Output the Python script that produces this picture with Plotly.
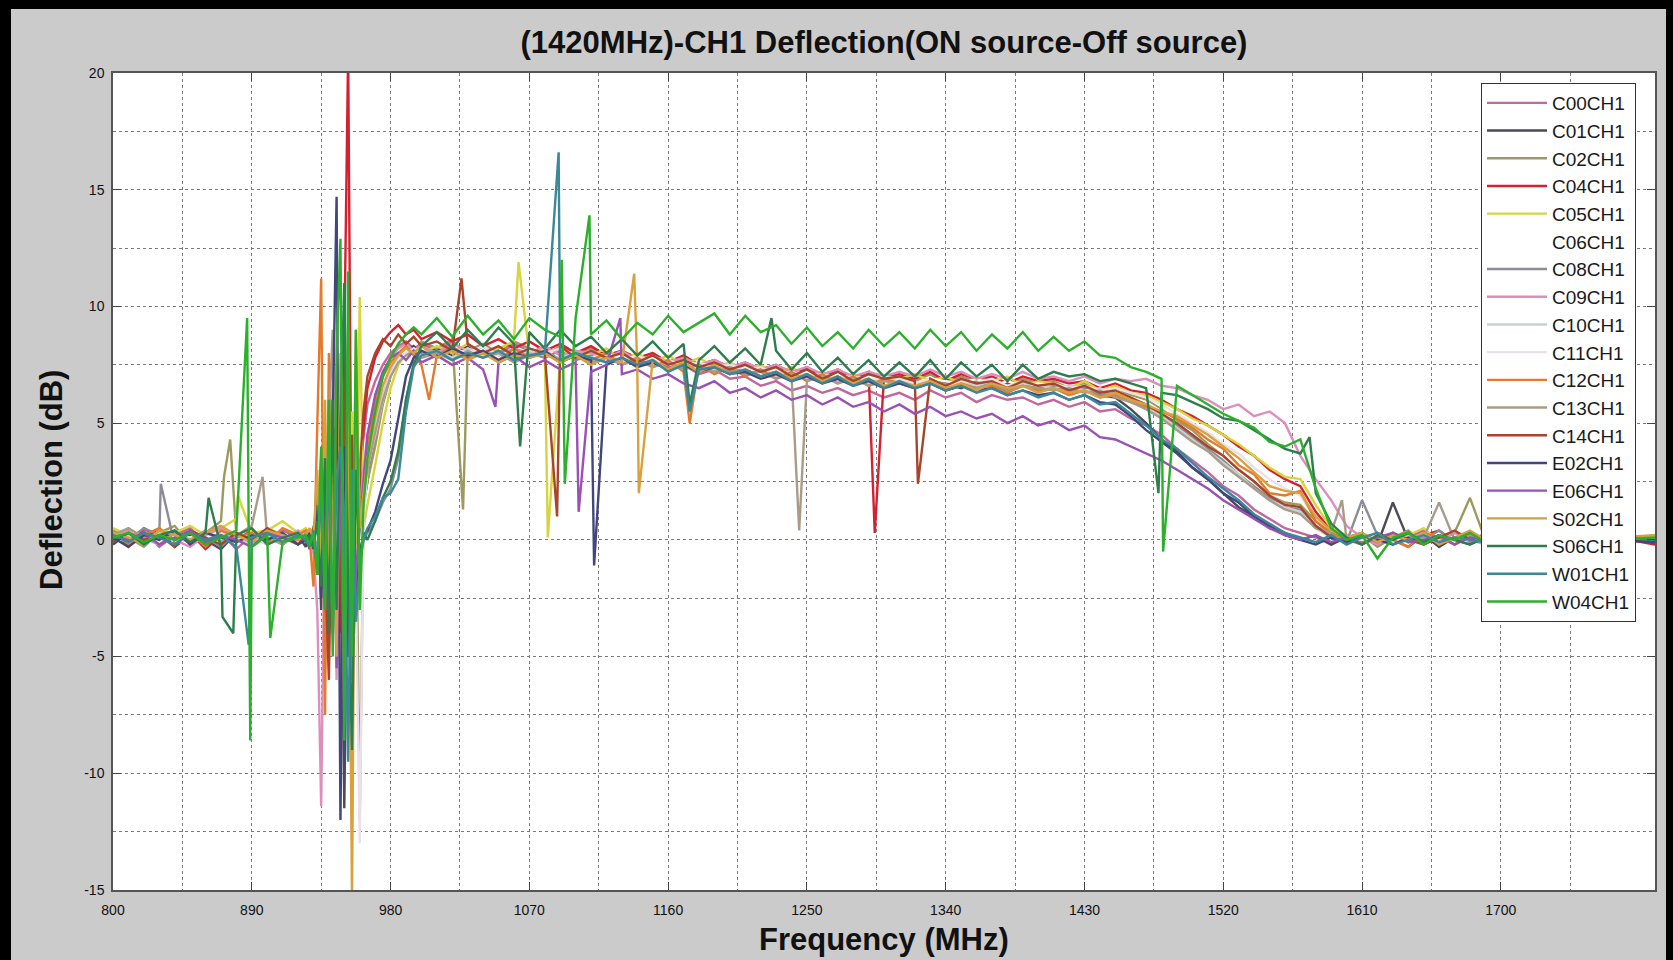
import plotly.graph_objects as go

# ---------------- data ----------------
freq = [800, 810, 820, 830, 840, 850, 860, 870, 880, 890, 900, 910, 920,
        925, 927.5, 930, 932.5, 935, 937.5, 940, 942.5, 945, 947.5, 950, 952.5, 955, 957.5, 960, 962.5, 965,
        970, 975, 980, 985, 990, 995, 1000,
        1010, 1020, 1030, 1040, 1050, 1060, 1070, 1080, 1090, 1100,
        1110, 1120, 1130, 1140, 1150, 1160, 1170, 1180, 1190, 1200,
        1210, 1220, 1230, 1240, 1250, 1260, 1270, 1280, 1290, 1300,
        1310, 1320, 1330, 1340, 1350, 1360, 1370, 1380, 1390, 1400,
        1410, 1420, 1430, 1440, 1450, 1460, 1470, 1480, 1490, 1500,
        1510, 1520, 1530, 1540, 1550, 1560, 1570, 1580, 1590, 1600,
        1610, 1620, 1630, 1640, 1650, 1660, 1670, 1680, 1690,
        1700, 1725, 1750, 1775, 1800]

c00 = [0.3, -0.2, 0.4, -0.3, 0.2, 0.5, -0.1, 0.3, -0.4, 0.2, -0.2, 0.4, 0.1,
       0.2, -0.3, 0.5, 1.2, -2.5, 3.1, -4.2, 2.0, 5.5, -6.0, 3.5, -2.0, 1.5, 4.0, 3.0, 4.5, 5.8,
       6.8, 7.5, 8.0, 8.3, 8.5, 8.2, 8.4,
       8.1, 8.5, 8.0, 8.3, 7.9, 8.4, 8.1, 7.8, 8.2, 7.9,
       8.0, 7.7, 8.1, 7.6, 7.8, 7.4, 7.5, 7.1, 7.3, 6.9,
       7.0, 6.6, 6.8, 6.4, 6.6, 6.3, 6.5, 6.2, 6.4, 6.1,
       6.3, 6.0, 6.4, 6.1, 6.3, 5.9, 6.2, 6.0, 6.1, 5.8,
       6.0, 5.7, 5.9, 5.5, 5.6, 5.2, 4.9, 4.5, 3.9, 3.4,
       2.9, 2.3, 1.9, 1.3, 0.9, 0.5, 0.3, 0.1, -0.2, 0.2,
       -0.1, 0.3, -0.2, 0.1, 0.4, -0.3, 0.2, -0.1, 0.3,
       0.0, 0.2, -0.2, 0.1, 0.0]

c01 = [-0.2, 0.3, 0.1, 0.4, -0.3, 0.2, 0.0, -0.4, 0.3, -0.2, 0.4, -0.1, 0.2,
       -0.3, 0.4, -0.2, 2.5, -3.0, 4.5, -1.5, 6.0, -4.0, 3.0, -11.5, 2.0, -3.5, 1.0, 0.5, 1.5, 2.5,
       4.5, 6.2, 7.2, 7.8, 8.1, 8.3, 8.0,
       8.2, 7.9, 8.3, 8.0, 7.8, 8.2, 7.9, 8.1, 7.7, 8.0,
       7.8, 8.0, 7.6, 7.9, 7.5, 7.7, 7.4, 7.6, 7.3, 7.5,
       7.2, 7.4, 7.0, 7.3, 6.9, 7.1, 6.8, 7.0, 6.7, 6.9,
       6.8, 6.6, 6.9, 6.7, 6.5, 6.8, 6.6, 6.4, 6.7, 6.5,
       6.6, 6.3, 6.5, 6.2, 6.1, 5.6, 5.0, 4.3, 3.8, 3.1,
       2.6, 2.0, 1.4, 1.0, 0.5, 0.3, 0.0, 0.2, -0.2, 0.1,
       0.3, -0.2, 1.6, 0.0, 0.2, -0.3, 0.1, 0.3, -0.1,
       0.1, -0.2, 0.2, 0.0, -0.1]

c02 = [0.4, 0.1, -0.3, 0.3, 0.6, -0.2, 0.3, 0.8, 0.2, -0.3, 0.5, 0.2, -0.1,
       0.3, -0.2, 0.6, -1.5, 3.5, -2.0, 5.0, 2.5, -3.5, 6.0, -2.5, 4.0, -6.0, 3.0, -12.0, 1.5, 2.5,
       4.0, 5.8, 7.0, 7.8, 8.2, 8.0, 8.5,
       8.2, 8.6, 8.1, 8.4, 8.0, 8.5, 8.2, 7.9, 8.3, 8.0,
       8.2, 7.9, 8.1, 7.7, 8.0, 7.6, 7.8, 7.5, 7.7, 7.3,
       7.5, 7.2, 7.4, 7.0, 7.3, 6.9, 7.2, 6.8, 7.1, 6.9,
       7.0, 6.8, 7.1, 6.7, 7.0, 6.8, 6.9, 6.6, 6.9, 6.7,
       6.8, 6.5, 6.7, 6.4, 6.5, 6.2, 6.0, 5.6, 5.1, 4.7,
       4.1, 3.6, 3.0, 2.5, 1.9, 1.6, 1.5, 0.8, 0.2, 0.0,
       0.2, -0.3, 0.1, 0.4, -0.2, 0.1, 0.3, 1.8, 0.0,
       0.2, -0.1, 0.1, 0.0, 0.2]

c04 = [0.2, -0.3, 0.5, 0.1, -0.2, 0.3, -0.4, 0.2, 0.0, 0.4, -0.2, 0.1, 0.3,
       0.1, -0.4, 0.3, -1.0, 2.0, -3.5, 4.0, -2.5, 6.5, -4.0, 9.0, 21.0, -3.0, 3.5, 2.0, 4.8, 6.5,
       7.8, 8.5, 8.9, 9.2, 8.8, 9.0, 8.6,
       8.9, 8.5, 8.8, 8.3, 8.6, 8.2, 8.5, 8.1, 8.4, 8.0,
       8.3, 7.9, 8.1, 7.8, 8.0, 7.6, 7.9, 7.5, 7.7, 7.4,
       7.6, 7.3, 7.5, 7.1, 7.4, 7.0, 7.3, 6.9, 7.2, 7.0,
       7.1, 6.9, 7.2, 6.8, 7.1, 6.9, 7.0, 6.7, 7.0, 6.8,
       6.9, 6.7, 6.8, 6.5, 6.7, 6.4, 6.3, 6.0, 5.6, 5.3,
       4.9, 4.5, 4.0, 3.6, 3.0, 2.6, 2.3, 1.2, 0.4, 0.1,
       -0.2, 0.3, 0.0, -0.3, 0.2, 0.4, -0.1, 0.2, 0.0,
       -0.1, 0.2, 0.0, 0.1, -0.2]

c05 = [0.5, 0.2, -0.1, 0.4, 0.3, 0.6, 0.2, 0.5, 0.9, 0.3, 0.4, 0.8, 0.3,
       0.5, 0.2, -0.5, 1.5, -2.0, 3.0, -1.0, 4.5, -3.0, 2.5, 6.0, -4.0, 5.5, -4.0, 10.4, 0.5, 1.5,
       3.2, 5.0, 6.5, 7.5, 8.0, 8.2, 8.0,
       8.3, 8.0, 8.4, 7.9, 8.2, 8.5, 7.9, 8.2, 7.8, 8.1,
       7.9, 8.2, 7.7, 8.0, 7.6, 7.9, 7.5, 7.8, 7.4, 7.6,
       7.3, 7.5, 7.1, 7.4, 7.0, 7.2, 6.9, 7.1, 6.8, 7.0,
       6.9, 7.1, 6.8, 7.0, 6.7, 6.9, 6.8, 7.0, 6.6, 6.8,
       6.7, 6.5, 6.8, 6.4, 6.6, 6.3, 6.2, 5.9, 5.6, 5.2,
       4.9, 4.5, 4.1, 3.6, 3.1, 2.7, 2.6, 1.5, 0.5, 0.2,
       0.0, 0.3, -0.2, 0.2, 0.5, -0.1, 0.3, 0.1, -0.2,
       0.1, 0.3, -0.1, 0.2, 0.0]

c06 = [0.1, -0.1, 0.2, 0.0, -0.2, 0.1, 0.3, -0.1, 0.2, 0.0, 0.1, -0.2, 0.1,
       0.0, 0.2, -0.3, 0.5, -1.0, 1.5, -0.5, 2.0, -1.5, 1.0, -2.0, 0.5, -2.2, -1.0, 0.5, 2.0, 3.5,
       5.0, 6.5, 7.4, 7.9, 8.1, 8.0, 8.2,
       8.0, 8.2, 7.9, 8.1, 7.8, 8.0, 8.2, 7.9, 8.1, 7.8,
       7.9, 7.7, 7.9, 7.6, 7.8, 7.5, 7.7, 7.4, 7.5, 7.3,
       7.4, 7.1, 7.3, 7.0, 7.2, 6.9, 7.1, 6.9, 7.0, 6.8,
       6.9, 6.7, 6.9, 6.8, 6.7, 6.9, 6.6, 6.8, 6.6, 6.7,
       6.6, 6.4, 6.6, 6.3, 6.4, 6.1, 5.9, 5.5, 5.0, 4.5,
       4.0, 3.5, 2.9, 2.4, 1.9, 1.5, 1.2, 0.6, 0.2, 0.0,
       0.1, -0.1, 0.2, 0.0, 0.1, -0.1, 0.2, 0.0, 0.1,
       0.0, 0.1, -0.1, 0.0, 0.1]

c08 = [0.3, 0.0, 0.5, 0.2, -0.2, 0.4, 0.1, -0.3, 0.3, 0.0, 0.2, -0.2, 0.3,
       0.1, -0.2, 0.4, -0.5, 1.5, -2.0, 2.5, -3.0, 4.0, -2.5, 3.0, -5.0, 2.0, -3.0, -1.0, 0.0, 0.3,
       0.8, 1.6, 2.2, 3.5, 6.0, 7.6, 8.0,
       8.1, 7.8, 8.2, 7.9, 8.1, 7.7, 8.0, 7.8, 8.1, 7.7,
       7.9, 7.6, 7.8, 7.5, 7.7, 7.3, 7.6, 7.4, 7.5, 7.2,
       7.3, 7.0, 7.2, 6.9, 7.1, 6.8, 7.0, 6.7, 6.9, 6.6,
       6.8, 6.6, 6.9, 6.5, 6.8, 6.6, 6.7, 6.5, 6.7, 6.4,
       6.6, 6.3, 6.5, 6.2, 6.3, 6.0, 5.8, 5.3, 4.9, 4.4,
       3.9, 3.4, 2.8, 2.3, 1.8, 1.4, 1.3, 0.6, 0.2, -0.1,
       1.7, 0.2, -0.2, 0.3, 0.0, 0.4, -0.1, 0.2, 0.1,
       -0.1, 0.2, 0.0, -0.2, 0.1]

c09 = [0.2, 0.4, -0.1, 0.3, 0.0, -0.3, 0.2, 0.5, 0.1, -0.2, 0.3, 0.0, 0.4,
       0.1, 0.3, -0.6, -3.0, -11.4, 2.0, -4.0, 5.0, -6.0, 7.0, -5.0, 3.0, -2.0, 2.5, 1.5, 3.0, 4.5,
       6.0, 7.0, 7.8, 8.2, 8.4, 8.1, 8.3,
       8.0, 8.4, 8.1, 8.3, 7.9, 8.2, 8.0, 8.3, 7.9, 8.1,
       8.0, 7.8, 8.1, 7.7, 7.9, 7.6, 7.8, 7.5, 7.7, 7.4,
       7.6, 7.3, 7.5, 7.2, 7.4, 7.1, 7.3, 7.0, 7.2, 7.0,
       7.2, 7.0, 7.3, 7.0, 7.2, 6.9, 7.1, 6.9, 7.2, 6.9,
       7.0, 6.8, 7.0, 6.7, 6.9, 6.8, 6.9, 6.6, 6.5, 6.2,
       6.0, 5.6, 5.8, 5.3, 5.5, 5.0, 3.6, 2.6, 1.7, 0.6,
       0.1, -0.2, 0.3, 0.0, 0.2, -0.1, 0.3, 0.0, -0.2,
       0.1, 0.0, 0.2, -0.1, 0.1]

c10 = [0.0, 0.2, -0.2, 0.3, 0.1, -0.1, 0.3, 0.0, 0.2, -0.3, 0.1, 0.2, -0.1,
       0.2, -0.1, 0.3, -0.8, 1.2, -1.8, 2.5, -1.0, 3.0, -2.0, 1.5, -3.0, 2.0, -1.5, 0.5, 1.8, 3.2,
       4.8, 6.2, 7.3, 7.8, 8.0, 8.1, 7.9,
       8.1, 7.8, 8.2, 7.9, 8.0, 7.8, 8.1, 7.9, 7.8, 8.0,
       7.7, 7.9, 7.6, 7.8, 7.5, 7.6, 7.4, 7.5, 7.3, 7.4,
       7.1, 7.3, 7.0, 7.2, 6.9, 7.0, 6.8, 7.0, 6.7, 6.9,
       6.8, 6.6, 6.8, 6.5, 6.7, 6.6, 6.8, 6.5, 6.7, 6.6,
       6.5, 6.6, 6.4, 6.5, 6.2, 6.0, 5.7, 5.3, 4.8, 4.3,
       3.8, 3.3, 2.8, 2.2, 1.7, 1.4, 1.2, 0.5, 0.1, 0.0,
       0.2, 0.0, 0.1, -0.1, 0.2, 0.0, -0.1, 0.1, 0.0,
       0.1, -0.1, 0.0, 0.1, 0.0]

c11 = [0.1, 0.3, 0.0, -0.2, 0.2, 0.1, -0.1, 0.3, 0.0, 0.2, -0.2, 0.1, 0.2,
       0.0, 0.3, -0.4, 1.0, -1.5, 2.0, -2.5, 1.5, -3.5, 2.5, -1.5, 1.0, -4.0, -2.0, -13.0, 1.0, 3.0,
       4.5, 6.0, 7.1, 7.7, 8.0, 8.2, 8.1,
       7.9, 8.2, 8.0, 8.3, 7.9, 8.1, 7.8, 8.0, 8.2, 7.9,
       7.8, 8.0, 7.7, 7.9, 7.6, 7.7, 7.5, 7.6, 7.4, 7.5,
       7.3, 7.4, 7.1, 7.2, 7.0, 7.1, 6.9, 7.0, 6.8, 7.0,
       6.9, 6.7, 6.9, 6.6, 6.8, 6.7, 6.9, 6.6, 6.8, 6.6,
       6.7, 6.5, 6.6, 6.4, 6.5, 6.3, 6.1, 5.8, 5.4, 5.0,
       4.6, 4.1, 3.7, 3.1, 2.6, 2.2, 1.9, 0.9, 0.3, 0.1,
       0.0, 0.2, -0.1, 0.1, 0.0, 0.2, -0.1, 0.0, 0.1,
       0.0, 0.1, 0.0, -0.1, 0.1]

c12 = [0.3, -0.2, 0.2, 0.5, 0.0, 0.3, -0.3, 0.4, 0.1, 0.3, -0.1, 0.5, 0.2,
       0.4, 0.1, -2.0, 5.0, 11.2, -7.5, 8.0, 3.0, -3.5, 6.5, -1.5, 9.0, -4.0, 5.0, 1.0, 2.5, 4.0,
       5.8, 7.0, 7.6, 8.0, 8.3, 7.9, 7.5,
       7.9, 8.3, 7.8, 8.1, 7.7, 8.2, 7.8, 8.0, 7.6, 7.9,
       7.7, 8.0, 7.5, 7.8, 7.4, 7.7, 7.2, 7.5, 7.1, 7.4,
       7.0, 7.3, 6.9, 7.2, 6.8, 7.1, 6.7, 7.0, 6.6, 6.9,
       6.7, 6.5, 6.8, 6.4, 6.7, 6.5, 6.6, 6.3, 6.6, 6.4,
       6.5, 6.2, 6.4, 6.1, 6.2, 5.9, 5.7, 5.5, 5.2, 4.8,
       4.3, 3.9, 3.2, 2.8, 2.0, 1.9, 2.1, 0.8, 0.3, 0.0,
       -0.2, 0.2, 0.0, -0.3, 0.3, 0.1, -0.2, 0.2, 0.0,
       -0.2, 0.1, 0.2, -0.1, 0.0]

c13 = [0.2, 0.5, 0.1, -0.2, 0.3, 0.0, 0.4, -0.1, 0.2, 0.6, 0.1, -0.2, 0.3,
       0.1, 0.4, -0.3, 1.0, 3.0, -2.5, 5.0, 9.0, -4.0, 3.5, -6.0, 2.0, -2.5, 4.0, 1.5, 2.0, 3.0,
       4.6, 6.0, 7.0, 7.6, 7.9, 8.1, 7.8,
       8.0, 7.7, 8.1, 7.8, 8.0, 7.6, 7.9, 8.1, 7.7, 7.9,
       7.6, 7.8, 7.5, 7.7, 7.4, 7.6, 7.3, 7.5, 7.2, 7.4,
       7.1, 7.2, 6.9, 7.1, 6.8, 7.0, 6.7, 6.9, 6.6, 6.8,
       6.7, 6.5, 6.7, 6.4, 6.6, 6.5, 6.7, 6.4, 6.6, 6.5,
       6.4, 6.5, 6.3, 6.4, 6.1, 5.9, 5.6, 5.2, 4.7, 4.2,
       3.8, 3.2, 2.7, 2.2, 1.7, 1.3, 1.1, 0.5, 0.3, 0.0,
       0.2, 0.0, 0.3, -0.1, 0.1, 1.6, 0.0, 0.2, -0.1,
       0.1, 0.0, 0.2, -0.1, 0.0]

c14 = [-0.1, 0.3, 0.0, 0.2, -0.3, 0.4, 0.1, -0.2, 0.3, 0.0, 0.5, 0.1, -0.2,
       0.2, -0.1, 0.5, -1.5, 3.5, -1.0, -6.0, 4.0, 5.0, -3.0, 7.0, -2.0, 4.5, -3.5, 3.0, 5.5, 7.0,
       8.0, 8.6, 8.3, 8.8, 8.4, 8.7, 8.3,
       8.5, 8.1, 8.4, 8.0, 8.3, 7.9, 8.2, 8.0, 8.3, 7.8,
       8.1, 7.8, 8.0, 7.6, 7.9, 7.5, 7.7, 7.4, 7.6, 7.3,
       7.5, 7.2, 7.4, 7.0, 7.3, 6.9, 7.2, 6.8, 7.1, 6.9,
       7.0, 6.8, 6.9, 6.6, 6.9, 6.7, 6.8, 6.5, 6.8, 6.6,
       6.7, 6.4, 6.6, 6.3, 6.4, 6.1, 5.8, 5.4, 5.0, 4.5,
       4.0, 3.6, 3.0, 2.5, 1.9, 1.5, 1.4, 0.6, 0.1, -0.1,
       0.2, -0.1, 0.3, 0.0, -0.2, 0.1, 0.4, 0.0, 0.2,
       -0.1, 0.1, 0.0, 0.2, -0.1]

e02 = [0.1, -0.3, 0.2, 0.0, 0.4, -0.2, 0.3, 0.1, -0.1, 0.2, 0.0, 0.3, -0.2,
       0.0, 0.3, -0.4, 1.5, -2.5, 3.0, -1.5, 5.0, 14.7, -12.0, 4.0, -5.0, 2.0, -2.0, -0.5, 0.2, 0.4,
       1.2, 2.4, 3.4, 5.2, 7.0, 7.8, 8.1,
       7.8, 8.2, 7.9, 8.1, 7.7, 8.0, 7.8, 8.1, 7.6, 7.9,
       7.7, 7.5, 7.8, 7.4, 7.6, 7.3, 7.5, 7.2, 7.4, 7.1,
       7.2, 6.9, 7.1, 6.8, 7.0, 6.7, 6.9, 6.6, 6.8, 6.5,
       6.7, 6.5, 6.7, 6.4, 6.6, 6.4, 6.5, 6.2, 6.4, 6.2,
       6.3, 6.0, 6.2, 5.9, 5.8, 5.3, 4.7, 4.2, 3.7, 3.1,
       2.6, 2.0, 1.6, 1.0, 0.6, 0.2, 0.0, -0.2, 0.1, -0.1,
       0.2, 0.0, -0.2, 0.1, -0.1, 0.2, 0.0, -0.2, 0.1,
       0.0, -0.1, 0.1, 0.0, -0.1]

e06 = [0.2, 0.0, 0.3, -0.2, 0.1, 0.4, -0.1, 0.2, 0.0, -0.3, 0.3, 0.1, 0.0,
       0.1, -0.2, 0.3, -1.0, 2.0, -3.0, 1.5, 4.0, -5.5, 3.0, -8.0, 2.5, -6.0, -1.5, 0.5, 2.5, 4.5,
       6.2, 7.2, 7.8, 8.0, 7.7, 8.1, 7.6,
       7.9, 7.5, 7.8, 7.3, 7.6, 7.9, 7.4, 7.7, 7.3, 7.6,
       7.2, 7.5, 7.1, 7.3, 6.9, 7.1, 6.7, 6.5, 6.8, 6.3,
       6.5, 6.1, 6.4, 6.0, 6.2, 5.8, 6.1, 5.7, 5.9, 5.5,
       5.8, 5.4, 5.7, 5.3, 5.5, 5.2, 5.4, 5.0, 5.3, 4.9,
       5.1, 4.7, 4.9, 4.4, 4.3, 4.0, 3.7, 3.4, 3.0, 2.6,
       2.2, 1.7, 1.3, 0.9, 0.5, 0.2, 0.0, 0.2, -0.1, 0.1,
       -0.2, 0.1, 0.3, -0.1, 0.0, 0.2, -0.2, 0.1, 0.0,
       0.1, -0.1, 0.0, 0.2, 0.0]

s02 = [0.3, 0.1, -0.2, 0.4, 0.2, 0.0, 0.3, 0.6, 0.2, -0.1, 0.4, 0.2, 0.0,
       0.2, 0.5, 0.0, 3.0, -1.5, 6.0, -3.0, 4.0, -5.0, 8.0, -2.5, 5.0, -15.5, 9.0, 0.5, 2.0, 3.5,
       5.2, 6.6, 7.4, 7.9, 8.2, 8.0, 8.3,
       7.8, 8.1, 7.7, 8.0, 7.6, 7.9, 7.8, 8.0, 7.6, 7.9,
       7.5, 7.8, 7.6, 7.4, 7.7, 7.3, 7.6, 7.2, 7.5, 7.1,
       7.3, 7.0, 7.2, 6.9, 7.1, 6.8, 7.0, 6.7, 6.9, 6.6,
       6.8, 6.6, 6.8, 6.5, 6.7, 6.4, 6.7, 6.5, 6.6, 6.3,
       6.5, 6.3, 6.4, 6.1, 6.3, 6.0, 5.8, 5.5, 5.3, 4.9,
       4.5, 4.0, 3.5, 2.9, 2.3, 2.1, 2.0, 1.0, 0.4, 0.1,
       0.3, -0.1, 0.2, 0.0, 0.3, -0.2, 0.1, 0.4, 0.0,
       0.2, 0.0, -0.1, 0.1, 0.2]

s06 = [0.0, 0.3, -0.2, 0.2, 0.4, -0.1, 0.3, -0.3, 0.2, 0.5, -0.2, 0.1, 0.3,
       -0.1, 0.2, -0.3, 0.8, -2.0, 3.5, -4.0, 6.0, -3.0, 5.0, 11.0, -2.0, -9.0, 3.0, -1.0, 0.3, 0.0,
       0.8, 1.8, 2.5, 3.8, 6.0, 7.5, 8.3,
       8.9, 8.2, 9.0, 8.3, 9.1, 8.4, 8.9, 8.2, 9.0, 8.3,
       8.7, 8.0, 8.6, 7.9, 8.5, 7.8, 8.4, 7.7, 8.3, 7.6,
       8.2, 7.5, 8.1, 7.3, 8.0, 7.2, 7.8, 7.1, 7.7, 7.0,
       7.6, 7.0, 7.7, 6.9, 7.6, 7.0, 7.5, 6.8, 7.5, 6.9,
       7.2, 7.0, 7.1, 6.8, 6.9, 6.7, 6.5, 6.3, 6.2, 5.9,
       5.6, 5.2, 5.1, 4.7, 4.3, 3.9, 3.7, 2.0, 0.7, 0.1,
       -0.2, 0.2, 0.0, 0.3, -0.1, 0.2, 0.0, -0.2, 0.1,
       0.0, 0.2, -0.1, 0.1, 0.0]

w01 = [0.2, -0.1, 0.3, 0.1, -0.2, 0.3, 0.0, 0.2, -0.3, 0.1, 0.3, -0.1, 0.2,
       0.0, -0.3, 0.4, -1.0, 2.0, -2.5, 3.5, -4.0, 2.5, 4.0, 1.0, -9.5, 3.0, -3.5, -1.0, 0.0, 0.5,
       1.0, 1.8, 2.0, 2.6, 5.5, 7.4, 7.9,
       8.1, 7.7, 8.0, 7.8, 8.1, 7.7, 7.9, 8.0, 7.7, 8.0,
       7.8, 7.6, 7.8, 7.5, 7.7, 7.2, 7.5, 7.3, 7.4, 7.1,
       7.3, 7.0, 7.2, 6.8, 7.1, 6.7, 7.0, 6.6, 6.9, 6.5,
       6.8, 6.5, 6.7, 6.4, 6.6, 6.3, 6.5, 6.2, 6.4, 6.1,
       6.3, 6.0, 6.2, 5.8, 5.9, 5.4, 4.9, 4.3, 3.9, 3.3,
       2.7, 2.2, 1.7, 1.1, 0.7, 0.3, 0.1, -0.1, 0.2, -0.2,
       0.1, 0.3, -0.2, 0.0, 0.2, -0.1, 0.1, 0.0, -0.1,
       0.1, 0.0, -0.2, 0.1, 0.0]

w04 = [0.1, 0.3, -0.1, 0.2, 0.0, 0.3, -0.2, 0.1, 0.4, -0.3, 0.2, -0.1, 0.1,
       0.2, -0.2, 0.3, -1.5, 4.0, -3.0, 6.0, -5.0, 8.0, 12.9, -8.6, 11.5, -5.0, 9.0, -3.0, 1.5, 3.5,
       5.5, 7.0, 7.8, 8.4, 8.8, 9.1, 8.8,
       9.5, 8.7, 9.6, 8.8, 9.4, 8.6, 9.5, 9.0, 8.7, 9.5,
       8.8, 9.4, 8.6, 9.3, 8.8, 9.6, 8.9, 9.3, 9.7, 8.8,
       9.6, 8.9, 9.2, 8.4, 9.1, 8.3, 8.9, 8.2, 9.0, 8.3,
       8.9, 8.2, 9.0, 8.3, 8.9, 8.1, 8.8, 8.2, 8.9, 8.1,
       8.7, 8.1, 8.5, 7.9, 7.8, 7.4, 7.2, 6.9, 6.6, 6.2,
       5.8, 5.4, 5.1, 4.8, 4.2, 4.0, 4.3, 2.2, 0.5, 0.0,
       0.2, -0.8, 0.1, 0.3, -0.2, 0.2, 0.0, 0.3, -0.1,
       0.1, -0.2, 0.2, 0.0, 0.1]

# narrow spikes (frequency, value) that fall between grid samples
c02_spike_f = [872, 876, 1027]
c02_spike_v = [2.7, 4.3, 1.3]
c04_spike_f = [1294]
c04_spike_v = [0.3]
c05_spike_f = [881, 1063, 1082]
c05_spike_v = [1.9, 11.9, 0.1]
c08_spike_f = [831]
c08_spike_v = [2.4]
c12_spike_f = [1005, 1174]
c12_spike_v = [6.0, 5.0]
c13_spike_f = [897, 1245, 1597]
c13_spike_v = [2.7, 0.4, 1.7]
c14_spike_f = [1026, 1088, 1322]
c14_spike_v = [11.2, 1.0, 2.4]
e02_spike_f = [1112]
e02_spike_v = [-1.1]
e06_spike_f = [1048, 1102, 1129]
e06_spike_v = [5.7, 1.2, 9.5]
s02_spike_f = [1138, 1141]
s02_spike_v = [11.4, 2.0]
s06_spike_f = [862, 871, 878, 1064, 1174, 1227, 1478, 1576]
s06_spike_v = [1.8, -3.3, -4.0, 4.0, 5.8, 9.5, 2.0, 4.4]
w01_spike_f = [888, 1089, 1174]
w01_spike_v = [-4.5, 16.6, 5.5]
w04_spike_f = [887, 889, 902, 1091, 1093, 1109, 1481]
w04_spike_v = [9.5, -8.6, -4.2, 12.0, 2.4, 13.9, -0.5]

names = ["C00CH1", "C01CH1", "C02CH1", "C04CH1", "C05CH1", "C06CH1", "C08CH1", "C09CH1",
         "C10CH1", "C11CH1", "C12CH1", "C13CH1", "C14CH1", "E02CH1", "E06CH1", "S02CH1",
         "S06CH1", "W01CH1", "W04CH1"]
values = [c00, c01, c02, c04, c05, c06, c08, c09, c10, c11, c12, c13, c14, e02, e06, s02, s06, w01, w04]
spike_fs = [[], [], c02_spike_f, c04_spike_f, c05_spike_f, [], c08_spike_f, [], [], [], c12_spike_f,
            c13_spike_f, c14_spike_f, e02_spike_f, e06_spike_f, s02_spike_f, s06_spike_f, w01_spike_f, w04_spike_f]
spike_vs = [[], [], c02_spike_v, c04_spike_v, c05_spike_v, [], c08_spike_v, [], [], [], c12_spike_v,
            c13_spike_v, c14_spike_v, e02_spike_v, e06_spike_v, s02_spike_v, s06_spike_v, w01_spike_v, w04_spike_v]

colors = ["#c2669e", "#4a4a58", "#9d9a5e", "#d42030", "#d8d43c", "#ffffff", "#8c8c98", "#dc8fbc",
          "#c6d2d6", "#ecdfec", "#e47a2a", "#a89c88", "#a8442c", "#43467c", "#9a50b4", "#d9a040",
          "#2e7d4c", "#3a8898", "#2cb02c"]

xtick_vals = [800, 890, 980, 1070, 1160, 1250, 1340, 1430, 1520, 1610, 1700]
xtick_text = ["800", "890", "980", "1070", "1160", "1250", "1340", "1430", "1520", "1610", "1700"]
ytick_vals = [-15, -10, -5, 0, 5, 10, 15, 20]
ytick_text = ["-15", "-10", "-5", "0", "5", "10", "15", "20"]

# ---------------- figure ----------------
fig = go.Figure()
for name, col, vals, sf, sv in zip(names, colors, values, spike_fs, spike_vs):
    if len(vals) != len(freq):
        raise ValueError(f"{name}: {len(vals)} values for {len(freq)} frequencies")
    pts = sorted(zip(freq + sf, vals + sv))
    fig.add_trace(go.Scatter(
        x=[p[0] for p in pts], y=[p[1] for p in pts], mode="lines", name=name,
        line=dict(color=col, width=2.4), hoverinfo="skip"))

W, H = 1673, 960
L, R, T, B = 113, 18, 73, 70
PW, PH = W - L - R, H - T - B


def px_x(px):
    return (px - L) / PW


def px_y(py):
    return (H - B - py) / PH


grid_style = dict(showgrid=True, gridcolor="#7a7a7a", gridwidth=1, griddash="3px,3px")

minor_x = [800 + 45 * k for k in range(1, 23) if k % 2 == 1]
minor_y = [-12.5, -7.5, -2.5, 2.5, 7.5, 12.5, 17.5]

fig.update_layout(
    width=W, height=H,
    margin=dict(l=L, r=R, t=T, b=B, autoexpand=False),
    paper_bgcolor="#cbcbcb", plot_bgcolor="white",
    font=dict(family="Liberation Sans, Arial, sans-serif", color="#111"),
    title=dict(text="<b>(1420MHz)-CH1 Deflection(ON source-Off source)</b>",
               x=0.5, xref="paper", xanchor="center",
               y=1 - 42 / H, yref="container", yanchor="middle",
               font=dict(size=31, color="#111")),
    showlegend=True,
    legend=dict(x=px_x(1481), y=px_y(83), xanchor="left", yanchor="top",
                bgcolor="white", bordercolor="#333", borderwidth=1,
                font=dict(size=19, color="#1a1a1a"), itemwidth=60, tracegroupgap=0),
    xaxis=dict(range=[800, 1800], tickmode="array", tickvals=xtick_vals, ticktext=xtick_text,
               ticks="inside", ticklen=8, tickwidth=1, tickcolor="#444",
               showline=True, linecolor="#555", linewidth=1.5, mirror="ticks",
               zeroline=False, tickfont=dict(size=14, color="#111"), ticklabelstandoff=6,
               minor=dict(tickvals=minor_x, ticks="", **grid_style),
               **grid_style),
    yaxis=dict(range=[-15, 20], tickmode="array", tickvals=ytick_vals, ticktext=ytick_text,
               ticks="inside", ticklen=8, tickwidth=1, tickcolor="#444",
               showline=True, linecolor="#555", linewidth=1.5, mirror="ticks",
               zeroline=False, tickfont=dict(size=14, color="#111"), ticklabelstandoff=4,
               minor=dict(tickvals=minor_y, ticks="", **grid_style),
               **grid_style),
    annotations=[
        dict(text="<b>Frequency (MHz)</b>", xref="paper", yref="paper",
             x=0.5, y=px_y(939), xanchor="center", yanchor="middle",
             showarrow=False, font=dict(size=31, color="#111")),
        dict(text="<b>Deflection (dB)</b>", xref="paper", yref="paper",
             x=px_x(51), y=px_y(480), xanchor="center", yanchor="middle", textangle=-90,
             showarrow=False, font=dict(size=31, color="#111")),
    ],
    shapes=[
        dict(type="rect", xref="paper", yref="paper", layer="above",
             x0=px_x(0), x1=px_x(W), y0=px_y(0), y1=px_y(9),
             fillcolor="black", line=dict(width=0)),
        dict(type="rect", xref="paper", yref="paper", layer="above",
             x0=px_x(0), x1=px_x(11), y0=px_y(0), y1=px_y(H),
             fillcolor="black", line=dict(width=0)),
        dict(type="rect", xref="paper", yref="paper", layer="above",
             x0=px_x(1666), x1=px_x(W), y0=px_y(0), y1=px_y(H),
             fillcolor="black", line=dict(width=0)),
    ],
)

fig.write_html("out.html")
